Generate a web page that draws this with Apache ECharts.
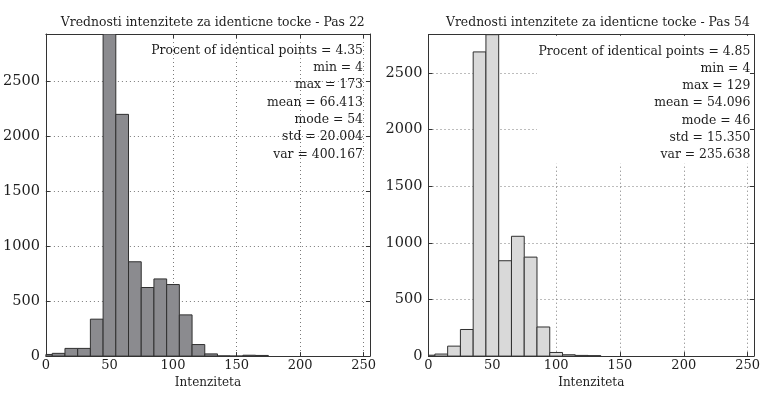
<!DOCTYPE html>
<html>
<head>
<meta charset="utf-8">
<script src="https://cdn.jsdelivr.net/npm/echarts@6/dist/echarts.min.js"></script>
<style>
  html, body { margin: 0; padding: 0; background: #fff; }
  #chart { width: 763px; height: 394px; }
</style>
</head>
<body>
<div id="chart"></div>
<script>
// Histogram bins (centre of each 10-wide bin) and counts
const binWidth = 10;
const centersPas22 = [0, 10, 20, 30, 40, 50, 60, 70, 80, 90, 100, 110, 120, 130, 140, 150, 160, 170];
const countsPas22  = [15, 25, 70, 70, 336, 2930, 2199, 858, 624, 702, 651, 375, 105, 20, 2, 0, 8, 6];

const centersPas54 = [0, 10, 20, 30, 40, 50, 60, 70, 80, 90, 100, 110, 120, 130];
const countsPas54  = [8, 18, 88, 235, 2686, 2838, 842, 1058, 874, 257, 32, 12, 6, 4];

// Axis ranges and tick spacing
const xMin = 0, xMax = 255, xStep = 50;
const yStep = 500;

const titles = [
  'Vrednosti intenzitete za identicne tocke - Pas 22',
  'Vrednosti intenzitete za identicne tocke - Pas 54'
];
const xName = 'Intenziteta';

// Summary statistics printed in the upper right of each panel
const statLabels = ['Procent of identical points', 'min', 'max', 'mean', 'mode', 'std', 'var'];
const statsPas22 = ['4.35', '4', '173', '66.413', '54', '20.004', '400.167'];
const statsPas54 = ['4.85', '4', '129', '54.096', '46', '15.350', '235.638'];

const FONT = 'DejaVu Serif';
const INK = '#1e1e1e';

const panels = [
  { left: 45.5, top: 34, width: 324.5, height: 324.3, fill: '#8b8b8f', centers: centersPas22, counts: countsPas22, stats: statsPas22 },
  { left: 428.5, top: 34.7, width: 328.8, height: 324.3, fill: '#d9d9d9', centers: centersPas54, counts: countsPas54, stats: statsPas54 }
];

function renderBin(fill) {
  return function (params, api) {
    const c = api.value(0), n = api.value(1);
    const pTop = api.coord([c - binWidth / 2, n]);
    const pBot = api.coord([c + binWidth / 2, 0]);
    const cs = params.coordSys;
    const shape = echarts.graphic.clipRectByRect(
      { x: pTop[0], y: pTop[1], width: pBot[0] - pTop[0], height: pBot[1] - pTop[1] },
      { x: cs.x, y: cs.y, width: cs.width, height: cs.height }
    );
    if (!shape) return null;
    return {
      type: 'rect',
      shape: shape,
      style: { fill: fill, stroke: '#303030', lineWidth: 1 }
    };
  };
}

const plain = v => String(v);
const grid = [], xAxis = [], yAxis = [], series = [], title = [], graphic = [];

panels.forEach((p, i) => {
  grid.push({ left: p.left, top: p.top, width: p.width, height: p.height, show: false });

  const frameLine = { show: true, onZero: false, lineStyle: { color: '#333', width: 1 } };
  const tickStyle = { show: true, inside: true, length: 4, lineStyle: { color: '#333', width: 1 } };
  const splitStyle = { show: true, lineStyle: { color: '#7a7a7a', width: 1, type: [1, 3] } };

  // bottom x axis with labels and grid lines
  xAxis.push({
    type: 'value', gridIndex: i, min: xMin, max: xMax, interval: xStep, position: 'bottom',
    name: xName, nameLocation: 'middle', nameGap: 15,
    nameTextStyle: { fontFamily: FONT, fontSize: 12, color: INK },
    axisLine: frameLine,
    axisTick: tickStyle,
    axisLabel: { fontFamily: FONT, fontSize: 13, color: INK, margin: 3, showMaxLabel: false, formatter: plain },
    splitLine: splitStyle
  });
  // top x axis: frame and ticks only
  xAxis.push({
    type: 'value', gridIndex: i, min: xMin, max: xMax, interval: xStep, position: 'top',
    axisLine: frameLine,
    axisTick: tickStyle, axisLabel: { show: false }, splitLine: { show: false }
  });
  // left y axis
  yAxis.push({
    type: 'value', gridIndex: i, min: 0, max: v => v.max, interval: yStep, position: 'left',
    axisLine: frameLine,
    axisTick: tickStyle,
    axisLabel: { fontFamily: FONT, fontSize: 14.5, color: INK, margin: 6, showMaxLabel: false, formatter: plain },
    splitLine: splitStyle
  });
  // right y axis: frame and ticks only
  yAxis.push({
    type: 'value', gridIndex: i, min: 0, max: v => v.max, interval: yStep, position: 'right', z: 5,
    axisLine: frameLine,
    axisTick: tickStyle, axisLabel: { show: false }, splitLine: { show: false }
  });

  const data = p.centers.map((c, k) => [c, p.counts[k]]);
  series.push({
    type: 'custom', xAxisIndex: 2 * i, yAxisIndex: 2 * i, data: data,
    renderItem: renderBin(p.fill), clip: true, z: 2
  });
  // keep the frame axes on the same range as the data axes
  series.push({
    type: 'custom', xAxisIndex: 2 * i + 1, yAxisIndex: 2 * i + 1, data: data,
    renderItem: () => null, silent: true
  });

  title.push({
    text: titles[i], left: p.left + p.width / 2, top: 12, textAlign: 'center',
    textStyle: { fontFamily: FONT, fontSize: 12.4, fontWeight: 'normal', color: INK }
  });

  const lines = statLabels.map((l, k) => l + ' = ' + p.stats[k]).join('\n');
  const rightX = p.left + p.width - 7;
  if (i === 1) {
    // the statistics box in this panel hides the grid behind it
    graphic.push({
      type: 'rect', z: 1,
      shape: { x: 537, y: p.top + 1, width: rightX + 5 - 537, height: 128 },
      style: { fill: '#fff' }
    });
  }
  graphic.push({
    type: 'text', z: 10, x: rightX, y: p.top + 8,
    style: {
      text: lines, align: 'right', verticalAlign: 'top',
      font: '12.4px "' + FONT + '"', lineHeight: 17.3, fill: INK
    }
  });
});

const chart = echarts.init(document.getElementById('chart'), null, { renderer: 'canvas' });
chart.setOption({
  backgroundColor: '#fff',
  animation: false,
  title: title,
  grid: grid,
  xAxis: xAxis,
  yAxis: yAxis,
  series: series,
  graphic: graphic
});
</script>
</body>
</html>
